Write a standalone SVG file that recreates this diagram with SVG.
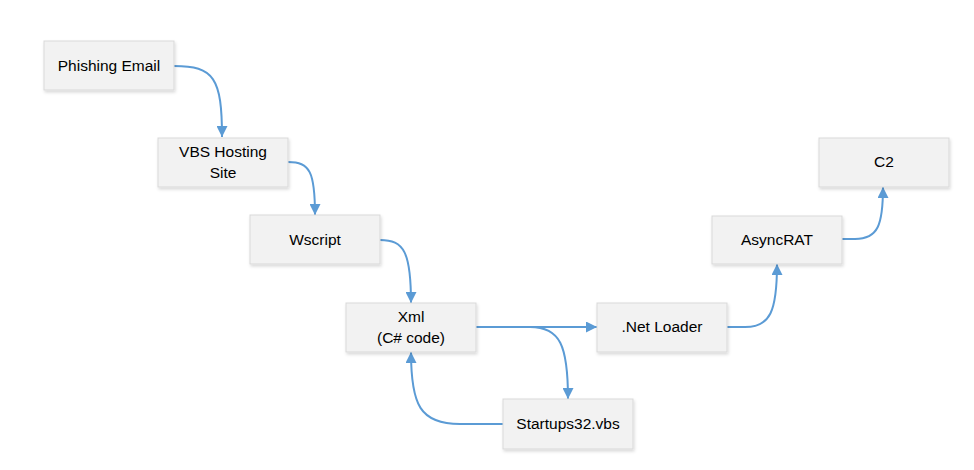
<svg xmlns="http://www.w3.org/2000/svg" width="974" height="470" viewBox="0 0 974 470">
<style>
.box{fill:#f2f2f2;stroke:#d9d9d9;stroke-width:1;filter:url(#sh)}
.lbl{font-family:"Liberation Sans",Arial,sans-serif;font-size:15.5px;fill:#000;text-anchor:middle}
.c{fill:none;stroke:#5b9bd5;stroke-width:2;marker-end:url(#ah)}
</style>
<defs>
<filter id="sh" x="-10%" y="-20%" width="130%" height="150%">
<feDropShadow dx="1" dy="2" stdDeviation="1.5" flood-color="#000" flood-opacity="0.15"/>
</filter>
<marker id="ah" viewBox="0 0 10 10" refX="10" refY="5" markerWidth="11" markerHeight="11" markerUnits="userSpaceOnUse" orient="auto">
<path d="M0,0 L10,5 L0,10 z" fill="#5b9bd5"/>
</marker>
</defs>
<rect width="974" height="470" fill="#fff"/>
<g id="connectors">
<path class="c" d="M174,66 C214,66 222,78 222,137"/>
<path class="c" d="M288,162 C310,162 315,172 315,215"/>
<path class="c" d="M380,240 C404,240 411,252 411,303"/>
<path class="c" d="M476,327 L597,327"/>
<path class="c" d="M476,327 L530,327 C560,327 568,345 568,399"/>
<path class="c" d="M503,424 L460,424 C420,424 411,405 411,352"/>
<path class="c" d="M727,327 L745,327 C770,327 777,312 777,264"/>
<path class="c" d="M842,239 L855,239 C878,239 883,225 883,187"/>
</g>
<g id="phishing"><rect class="box" x="44" y="41" width="130" height="49"/><text class="lbl" x="109" y="71">Phishing Email</text></g>
<g id="vbs"><rect class="box" x="158" y="138" width="130" height="49"/><text class="lbl" x="223" y="157">VBS Hosting</text><text class="lbl" x="223" y="178">Site</text></g>
<g id="wscript"><rect class="box" x="250" y="215" width="130" height="49"/><text class="lbl" x="315" y="245">Wscript</text></g>
<g id="xml"><rect class="box" x="346" y="303" width="130" height="49"/><text class="lbl" x="411" y="322">Xml</text><text class="lbl" x="411" y="343">(C# code)</text></g>
<g id="startups"><rect class="box" x="503" y="399" width="130" height="50"/><text class="lbl" x="568" y="429">Startups32.vbs</text></g>
<g id="netloader"><rect class="box" x="597" y="303" width="130" height="49"/><text class="lbl" x="662" y="332">.Net Loader</text></g>
<g id="asyncrat"><rect class="box" x="712" y="216" width="130" height="48"/><text class="lbl" x="777" y="245">AsyncRAT</text></g>
<g id="c2"><rect class="box" x="819" y="138" width="130" height="49"/><text class="lbl" x="884" y="167">C2</text></g>
</svg>
